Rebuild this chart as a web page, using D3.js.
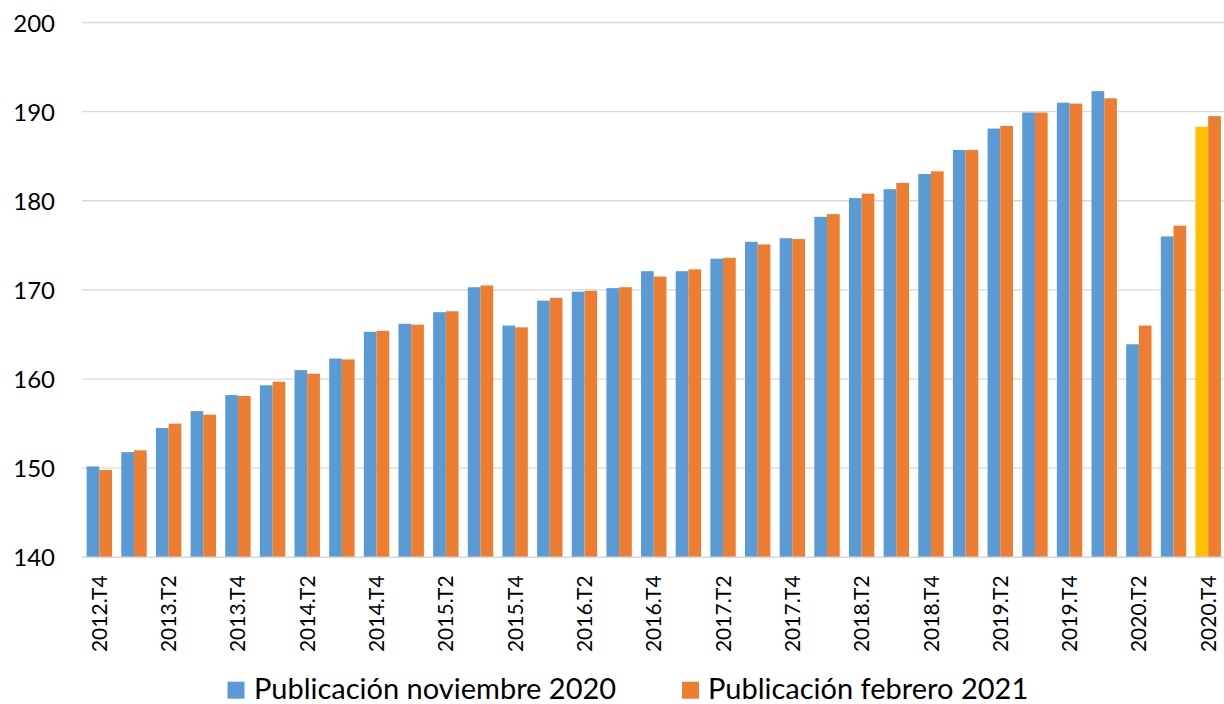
<!DOCTYPE html>
<html>
<head>
<meta charset="utf-8">
<script src="https://cdn.jsdelivr.net/npm/d3@7"></script>
<style>
  html, body { margin: 0; padding: 0; background: #fff; }
  svg { display: block; }
  text { font-family: Lato, "Open Sans", sans-serif; fill: #000; }
</style>
</head>
<body>
<svg id="chart" width="1224" height="704"></svg>
<script>
// Quarterly index, two publication vintages
const categories = [
  "2012.T4",
  "2013.T1", "2013.T2", "2013.T3", "2013.T4",
  "2014.T1", "2014.T2", "2014.T3", "2014.T4",
  "2015.T1", "2015.T2", "2015.T3", "2015.T4",
  "2016.T1", "2016.T2", "2016.T3", "2016.T4",
  "2017.T1", "2017.T2", "2017.T3", "2017.T4",
  "2018.T1", "2018.T2", "2018.T3", "2018.T4",
  "2019.T1", "2019.T2", "2019.T3", "2019.T4",
  "2020.T1", "2020.T2", "2020.T3", "2020.T4"
];

const seriesNames = ["Publicación noviembre 2020", "Publicación febrero 2021"];

const publicacionNov2020 = [
  150.2,
  151.8, 154.5, 156.4, 158.2,
  159.3, 161.0, 162.3, 165.3,
  166.2, 167.5, 170.3, 166.0,
  168.8, 169.8, 170.2, 172.1,
  172.1, 173.5, 175.4, 175.8,
  178.2, 180.3, 181.3, 183.0,
  185.7, 188.1, 189.9, 191.0,
  192.3, 163.9, 176.0, 188.3
];

const publicacionFeb2021 = [
  149.8,
  152.0, 155.0, 156.0, 158.1,
  159.7, 160.6, 162.2, 165.4,
  166.1, 167.6, 170.5, 165.8,
  169.1, 169.9, 170.3, 171.5,
  172.3, 173.6, 175.1, 175.7,
  178.5, 180.8, 182.0, 183.3,
  185.7, 188.4, 189.9, 190.9,
  191.5, 166.0, 177.2, 189.5
];

const yTicks = [140, 150, 160, 170, 180, 190, 200];
// Only every second quarter carries a label
const xTickLabels = categories.filter((d, i) => i % 2 === 0);
// Quarter whose first-vintage bar is drawn in the accent colour
const highlightedQuarter = "2020.T4";

const colors = { [seriesNames[0]]: "#5B9BD5", [seriesNames[1]]: "#ED7D31" };
const highlightColor = "#FFC000";

const svg = d3.select("#chart");
const plot = { left: 82, right: 1225.5, top: 22.5, bottom: 557.3 };

const x0 = d3.scaleBand()
  .domain(categories)
  .range([plot.left, plot.right])
  .paddingInner(0.267)
  .paddingOuter(0.1335);

const x1 = d3.scaleBand()
  .domain(seriesNames)
  .range([0, x0.bandwidth()]);

const y = d3.scaleLinear()
  .domain([140, 200])
  .range([plot.bottom, plot.top]);

// Horizontal gridlines
svg.append("g")
  .selectAll("line")
  .data(yTicks)
  .join("line")
  .attr("x1", plot.left)
  .attr("x2", 1224)
  .attr("y1", d => y(d))
  .attr("y2", d => y(d))
  .attr("stroke", "#d9d9d9")
  .attr("stroke-width", 1.3);

// Bars
const rows = categories.map((c, i) => ({
  cat: c,
  values: [
    { name: seriesNames[0], v: publicacionNov2020[i] },
    { name: seriesNames[1], v: publicacionFeb2021[i] }
  ]
}));

svg.append("g")
  .selectAll("g")
  .data(rows)
  .join("g")
  .attr("transform", d => `translate(${x0(d.cat)},0)`)
  .selectAll("rect")
  .data(d => d.values.map(v => ({ ...v, cat: d.cat })))
  .join("rect")
  .attr("x", d => x1(d.name))
  .attr("width", x1.bandwidth())
  .attr("y", d => y(d.v))
  .attr("height", d => y(140) - y(d.v))
  .attr("fill", d => (d.cat === highlightedQuarter && d.name === seriesNames[0]) ? highlightColor : colors[d.name]);

// Category axis line (baseline)
svg.append("line")
  .attr("x1", plot.left)
  .attr("x2", 1224)
  .attr("y1", y(140))
  .attr("y2", y(140))
  .attr("stroke", "#d9d9d9")
  .attr("stroke-width", 1.5);

// Y axis labels
const yAxis = d3.axisLeft(y).tickValues(yTicks).tickSize(0).tickPadding(0);
const yg = svg.append("g")
  .attr("transform", "translate(55,0)")
  .call(yAxis);
yg.select(".domain").remove();
yg.selectAll("text")
  .attr("font-family", "Lato, sans-serif")
  .attr("font-size", 24)
  .attr("fill", "#000")
  .attr("dy", "0.36em");

// X axis labels, rotated
const xAxis = d3.axisBottom(x0).tickValues(xTickLabels).tickSize(0).tickPadding(0);
const xg = svg.append("g")
  .attr("transform", `translate(0,${plot.bottom})`)
  .call(xAxis);
xg.select(".domain").remove();
xg.selectAll("text")
  .attr("font-family", "Lato, sans-serif")
  .attr("font-size", 21)
  .attr("fill", "#000")
  .attr("text-anchor", "end")
  .attr("transform", "rotate(-90)")
  .attr("x", -18)
  .attr("y", 0)
  .attr("dy", "0.36em");

// Legend
const legendItems = [
  { name: seriesNames[0], sx: 227.5, tx: 254 },
  { name: seriesNames[1], sx: 682, tx: 708 }
];
const lg = svg.append("g");
lg.selectAll("rect")
  .data(legendItems)
  .join("rect")
  .attr("x", d => d.sx)
  .attr("y", 681.7)
  .attr("width", 17)
  .attr("height", 17)
  .attr("fill", d => colors[d.name]);
lg.selectAll("text")
  .data(legendItems)
  .join("text")
  .attr("x", d => d.tx)
  .attr("y", 698.5)
  .attr("font-size", 29)
  .text(d => d.name);
</script>
</body>
</html>
